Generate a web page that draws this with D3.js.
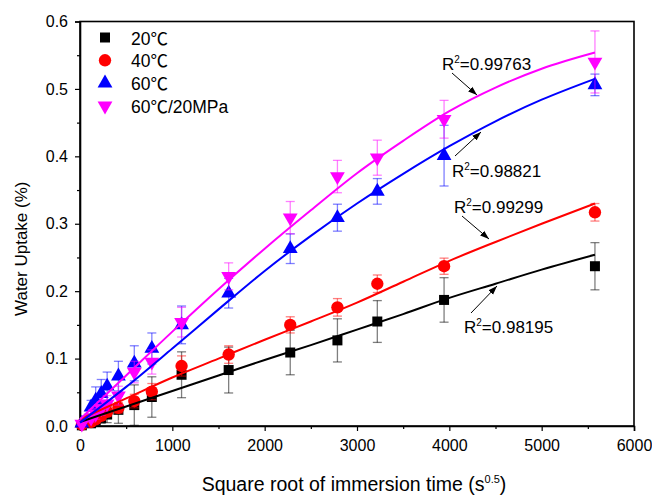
<!DOCTYPE html>
<html>
<head>
<meta charset="utf-8">
<title>Water uptake</title>
<script src="https://d3js.org/d3.v7.min.js"></script>
<style>
  body { margin: 0; background: #fff; }
  text { font-family: "Liberation Sans", Arial, "Noto Sans CJK SC", sans-serif; fill: #000; }
</style>
</head>
<body>
<svg id="chart" width="652" height="495"></svg>
<script>
// sqrt of immersion time (s^0.5)
var times = [20, 120, 170, 230, 294, 416, 588, 778, 1100, 1610, 2277, 2788, 3220, 3943, 5577];

var up20 = [0.001, 0.004, 0.008, 0.012, 0.017, 0.024, 0.031, 0.043, 0.076, 0.083, 0.109, 0.127, 0.155, 0.187, 0.237];
var up40 = [0.002, 0.006, 0.010, 0.015, 0.021, 0.027, 0.037, 0.051, 0.089, 0.106, 0.150, 0.176, 0.211, 0.237, 0.317];
var up60 = [0.004, 0.028, 0.038, 0.048, 0.059, 0.074, 0.093, 0.115, 0.150, 0.197, 0.263, 0.309, 0.348, 0.401, 0.506];
var up60p = [0.003, 0.012, 0.018, 0.026, 0.033, 0.045, 0.080, 0.095, 0.154, 0.222, 0.309, 0.370, 0.398, 0.455, 0.540];

var err20 = [0.002, 0.004, 0.006, 0.008, 0.012, 0.020, 0.030, 0.030, 0.034, 0.034, 0.033, 0.032, 0.031, 0.033, 0.035];
var err40 = [0.002, 0.004, 0.005, 0.006, 0.007, 0.008, 0.010, 0.012, 0.015, 0.013, 0.012, 0.013, 0.013, 0.012, 0.013];
var err60 = [0.003, 0.010, 0.020, 0.021, 0.021, 0.022, 0.026, 0.023, 0.028, 0.022, 0.022, 0.020, 0.019, 0.045, 0.016];
var err60p = [0.002, 0.006, 0.008, 0.010, 0.012, 0.014, 0.016, 0.018, 0.022, 0.020, 0.024, 0.024, 0.026, 0.028, 0.046];

// fitted curves
var fitX = [0, 500, 1000, 1500, 2000, 2500, 3000, 3500, 4000, 4500, 5000, 5577];
var fit20 = [0.006, 0.029, 0.052, 0.075, 0.098, 0.120, 0.143, 0.166, 0.190, 0.211, 0.232, 0.254];
var fit40 = [0.010, 0.041, 0.072, 0.100, 0.128, 0.155, 0.183, 0.214, 0.245, 0.273, 0.300, 0.330];
var fit60 = [0.005, 0.058, 0.115, 0.173, 0.230, 0.282, 0.330, 0.374, 0.415, 0.452, 0.484, 0.515];
var fit60p = [0.010, 0.075, 0.140, 0.203, 0.263, 0.320, 0.375, 0.423, 0.467, 0.502, 0.530, 0.554];

var seriesNames = ["20℃", "40℃", "60℃", "60℃/20MPa"];
var r2Labels = ["0.98195", "0.99299", "0.98821", "0.99763"];

var xTicks = [0, 1000, 2000, 3000, 4000, 5000, 6000];
var yTicks = [0.0, 0.1, 0.2, 0.3, 0.4, 0.5, 0.6];

var series = [
  { name: seriesNames[0], y: up20, e: err20, fit: fit20, color: "#000000", sym: d3.symbolSquare, size: 100, rot: 0 },
  { name: seriesNames[1], y: up40, e: err40, fit: fit40, color: "#ff0000", sym: d3.symbolCircle, size: 120, rot: 0 },
  { name: seriesNames[2], y: up60, e: err60, fit: fit60, color: "#0000ff", sym: d3.symbolTriangle, size: 95, rot: 0 },
  { name: seriesNames[3], y: up60p, e: err60p, fit: fit60p, color: "#ff00ff", sym: d3.symbolTriangle, size: 95, rot: 180 }
];

var svg = d3.select("#chart");
var plotL = 80, plotR = 634, plotT = 21.5, plotB = 426;

var x = d3.scaleLinear().domain([0, 6000]).range([plotL, plotR]);
var y = d3.scaleLinear().domain([0, 0.6]).range([plotB, plotT]);

svg.append("rect").attr("width", 652).attr("height", 495).attr("fill", "#fff");

// frame
svg.append("rect")
  .attr("x", plotL).attr("y", plotT)
  .attr("width", plotR - plotL).attr("height", plotB - plotT)
  .attr("fill", "none").attr("stroke", "#000").attr("stroke-width", 1.6);

// x axis
svg.append("g").attr("transform", "translate(0," + plotB + ")")
  .call(d3.axisBottom(x).tickValues(xTicks).tickFormat(d3.format("d")).tickSize(5).tickPadding(9));
svg.append("g").attr("transform", "translate(0," + plotB + ")")
  .call(d3.axisBottom(x).tickValues(d3.range(500, 6000, 1000)).tickFormat("").tickSize(3))
  .select(".domain").remove();

// y axis
svg.append("g").attr("transform", "translate(" + plotL + ",0)")
  .call(d3.axisLeft(y).tickValues(yTicks).tickFormat(d3.format(".1f")).tickSize(5).tickPadding(7));
svg.append("g").attr("transform", "translate(" + plotL + ",0)")
  .call(d3.axisLeft(y).tickValues(d3.range(0.05, 0.6, 0.1)).tickFormat("").tickSize(3))
  .select(".domain").remove();

svg.selectAll(".domain").attr("stroke-width", 1.6);
svg.selectAll(".tick line").attr("stroke-width", 1.2);
svg.selectAll(".tick text").style("font-size", "16px").style("font-family", "'Liberation Sans', Arial, sans-serif");

// titles
svg.append("text")
  .attr("x", (plotL + plotR) / 2 - 3).attr("y", 491)
  .attr("text-anchor", "middle").style("font-size", "19.5px")
  .html('Square root of immersion time (s<tspan dy="-8" style="font-size:11px">0.5</tspan><tspan dy="8">)</tspan>');

svg.append("text")
  .attr("transform", "translate(27," + ((plotT + plotB) / 2 + 25) + ") rotate(-90)")
  .attr("text-anchor", "middle").style("font-size", "17px")
  .text("Water Uptake (%)");

// error bars, markers
series.forEach(function(s) {
  var g = svg.append("g");
  var pts = times.map(function(t, i) { return { t: t, v: s.y[i], e: s.e[i] }; });

  var eb = g.append("g").attr("stroke", s.color).attr("stroke-opacity", 0.5).attr("stroke-width", 1.3);
  eb.selectAll("line.v").data(pts).join("line").attr("class", "v")
    .attr("x1", function(d) { return x(d.t); }).attr("x2", function(d) { return x(d.t); })
    .attr("y1", function(d) { return y(d.v + d.e); }).attr("y2", function(d) { return y(d.v - d.e); });
  eb.selectAll("line.top").data(pts).join("line").attr("class", "top")
    .attr("x1", function(d) { return x(d.t) - 4.5; }).attr("x2", function(d) { return x(d.t) + 4.5; })
    .attr("y1", function(d) { return y(d.v + d.e); }).attr("y2", function(d) { return y(d.v + d.e); });
  eb.selectAll("line.bot").data(pts).join("line").attr("class", "bot")
    .attr("x1", function(d) { return x(d.t) - 4.5; }).attr("x2", function(d) { return x(d.t) + 4.5; })
    .attr("y1", function(d) { return y(d.v - d.e); }).attr("y2", function(d) { return y(d.v - d.e); });

  g.selectAll("path.pt").data(pts).join("path").attr("class", "pt")
    .attr("d", d3.symbol().type(s.sym).size(s.size))
    .attr("transform", function(d) { return "translate(" + x(d.t) + "," + y(d.v) + ") rotate(" + s.rot + ")"; })
    .attr("fill", s.color);
});

// fitted curves
var line = d3.line()
  .x(function(d) { return x(d[0]); })
  .y(function(d) { return y(d[1]); })
  .curve(d3.curveMonotoneX);

series.forEach(function(s) {
  svg.append("path")
    .datum(fitX.map(function(t, i) { return [t, s.fit[i]]; }))
    .attr("d", line)
    .attr("fill", "none").attr("stroke", s.color).attr("stroke-width", 2);
});

// legend
var legend = svg.append("g");
series.forEach(function(s, i) {
  var ly = 37.5 + i * 22.8;
  legend.append("path")
    .attr("d", d3.symbol().type(s.sym).size(s.size))
    .attr("transform", "translate(105," + ly + ") rotate(" + s.rot + ")")
    .attr("fill", s.color);
  legend.append("text")
    .attr("x", 131).attr("y", ly + 7)
    .style("font-size", "17.5px")
    .html(s.name.replace("℃", '<tspan style="font-family:\'Noto Sans CJK SC\'">℃</tspan>'));
});

// R^2 annotations with arrows
svg.append("defs").append("marker")
  .attr("id", "arrow").attr("viewBox", "0 0 10 10")
  .attr("refX", 10).attr("refY", 5)
  .attr("markerWidth", 9).attr("markerHeight", 9)
  .attr("markerUnits", "userSpaceOnUse")
  .attr("orient", "auto")
  .append("path").attr("d", "M0,1.5 L10,5 L0,8.5 Z").attr("fill", "#000");

var notes = [
  { label: r2Labels[3], tx: 442, ty: 70, ax1: 452, ay1: 73, ax2: 477, ay2: 95 },
  { label: r2Labels[2], tx: 452, ty: 177, ax1: 455, ay1: 156, ax2: 481, ay2: 132 },
  { label: r2Labels[1], tx: 454, ty: 213, ax1: 462, ay1: 216, ax2: 489, ay2: 239 },
  { label: r2Labels[0], tx: 464, ty: 333, ax1: 471, ay1: 313, ax2: 497, ay2: 286 }
];

notes.forEach(function(n) {
  svg.append("line")
    .attr("x1", n.ax1).attr("y1", n.ay1).attr("x2", n.ax2).attr("y2", n.ay2)
    .attr("stroke", "#000").attr("stroke-width", 1)
    .attr("marker-end", "url(#arrow)");
  svg.append("text")
    .attr("x", n.tx).attr("y", n.ty)
    .style("font-size", "17px")
    .html('R<tspan dy="-7" style="font-size:10px">2</tspan><tspan dy="7">=' + n.label + '</tspan>');
});
</script>
</body>
</html>
